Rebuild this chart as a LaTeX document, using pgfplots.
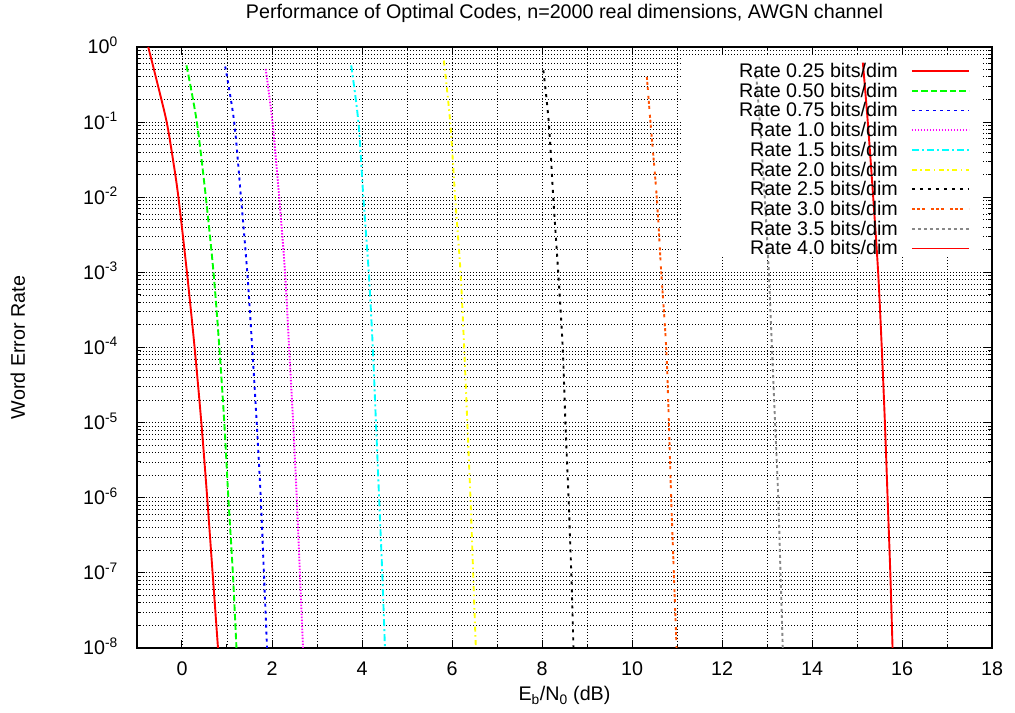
\documentclass[border=0pt]{standalone}
\usepackage{fontspec}
\setmainfont{Liberation Sans}
\usepackage{pgfplots}
\pgfplotsset{compat=1.18}

\definecolor{cGreen}{RGB}{0,255,0}
\definecolor{cBlue}{RGB}{0,0,255}
\definecolor{cMag}{RGB}{255,0,255}
\definecolor{cCyan}{RGB}{0,255,255}
\definecolor{cYel}{RGB}{255,255,0}
\definecolor{cOra}{RGB}{255,80,0}
\definecolor{cGray}{RGB}{136,136,136}

\newcommand\fsz{\fontsize{19.7bp}{23.6bp}\selectfont}

% minor log ticks 2..9 in every decade
\gdef\mlist{1e-9}
\foreach \e in {-8,...,-1}{\foreach \m in {2,...,9}{\xdef\mlist{\mlist,\m e\e}}}

\begin{document}
\begin{tikzpicture}[font=\fsz]
\begin{axis}[
    name=ax,
    scale only axis,
    width=855bp, height=601bp,
    xmin=-1, xmax=18,
    ymin=1e-8, ymax=1,
    ymode=log, log basis y=10,
    xtick={0,2,...,18},
    minor xtick={1,3,...,17},
    ytick={1e-8,1e-7,1e-6,1e-5,1e-4,1e-3,1e-2,1e-1,1},
    minor ytick/.expanded={\mlist},
    grid=both,
    major grid style={black, line width=0.8bp, dash pattern=on 1bp off 2bp},
    minor grid style={black, line width=0.8bp, dash pattern=on 1bp off 2bp},
    tick align=inside,
    major tick length=8bp, minor tick length=4bp,
    every tick/.style={black, line width=1bp},
    axis line style={line width=1.5bp},
    every tick label/.append style={font=\fsz},
    /pgf/number format/assume math mode=true,
    xticklabel style={anchor=base, inner sep=0pt, yshift=-28bp},
    yticklabel={10\textsuperscript{\pgfmathparse{int(round(\tick))}\pgfmathresult}},
    yticklabel style={anchor=base east, inner sep=0pt, xshift=-19bp, yshift=-7bp},
    title={Performance of Optimal Codes, n=2000 real dimensions, AWGN channel},
    title style={at={(axis description cs:0.5,1)}, anchor=base, yshift=23bp, inner sep=0pt},
    xlabel={E\textsubscript{b}/N\textsubscript{0} (dB)},
    xlabel style={at={(axis description cs:0.5,0)}, anchor=base, yshift=-53bp, inner sep=0pt},
    ylabel={Word Error Rate},
    ylabel style={at={(axis description cs:0,0.5)}, anchor=base, yshift=112bp, inner sep=0pt},
    legend plot pos=right,
    legend cell align=right,
    legend image code/.code={\draw[#1] (0bp,0bp) -- (57bp,0bp);},
    legend style={at={(0.9743,0.9734)}, anchor=north east, draw=none, fill=none,
        inner sep=0pt, column sep=13bp, row sep=3.95bp, font=\fsz,
        nodes={inner sep=0pt}},
    every axis plot/.append style={line width=1.9bp, line join=round, smooth, tension=0.5},
]
% opaque key area (grid hidden, curves drawn over it)
\fill[white] (rel axis cs:0.6386,0.6506) rectangle (rel axis cs:0.989,0.985);

\addplot[red, solid] coordinates {
 (-0.75,1) (-0.54,0.316) (-0.34,1e-1) (-0.20,0.0316) (-0.08,1e-2) (0.11,1e-3) (0.28,1e-4)
 (0.43,1e-5) (0.56,1e-6) (0.68,1e-7) (0.80,1e-8)};
\addlegendentry{Rate 0.25 bits/dim}
\addplot[cGreen, dash pattern=on 6.5bp off 3bp] coordinates {
 (0.10,0.57) (0.33,1e-1) (0.53,1e-2) (0.70,1e-3) (0.83,1e-4)
 (0.94,1e-5) (1.03,1e-6) (1.13,1e-7) (1.21,1e-8)};
\addlegendentry{Rate 0.50 bits/dim}
\addplot[cBlue, dash pattern=on 3bp off 4bp] coordinates {
 (0.96,0.55) (1.16,1e-1) (1.31,1e-2) (1.45,1e-3) (1.56,1e-4)
 (1.66,1e-5) (1.75,1e-6) (1.82,1e-7) (1.89,1e-8)};
\addlegendentry{Rate 0.75 bits/dim}
\addplot[cMag, dash pattern=on 1.5bp off 1.5bp] coordinates {
 (1.86,0.51) (2.01,1e-1) (2.16,1e-2) (2.29,1e-3) (2.38,1e-4)
 (2.47,1e-5) (2.55,1e-6) (2.62,1e-7) (2.69,1e-8)};
\addlegendentry{Rate 1.0 bits/dim}
\addplot[cCyan, dash pattern=on 7bp off 3bp on 2bp off 3bp] coordinates {
 (3.76,0.57) (3.92,1e-1) (4.03,1e-2) (4.15,1e-3) (4.24,1e-4)
 (4.31,1e-5) (4.38,1e-6) (4.45,1e-7) (4.51,1e-8)};
\addlegendentry{Rate 1.5 bits/dim}
\addplot[cYel, dash pattern=on 5bp off 3.5bp on 1.5bp off 3.5bp] coordinates {
 (5.82,0.66) (5.96,1e-1) (6.07,1e-2) (6.19,1e-3) (6.27,1e-4)
 (6.34,1e-5) (6.41,1e-6) (6.47,1e-7) (6.53,1e-8)};
\addlegendentry{Rate 2.0 bits/dim}
\addplot[black, dash pattern=on 3bp off 5bp] coordinates {
 (8.03,0.49) (8.15,1e-1) (8.25,1e-2) (8.36,1e-3) (8.46,1e-4)
 (8.52,1e-5) (8.59,1e-6) (8.65,1e-7) (8.70,1e-8)};
\addlegendentry{Rate 2.5 bits/dim}
\addplot[cOra, dash pattern=on 3bp off 2bp on 3bp off 2bp on 3bp off 6bp] coordinates {
 (10.33,0.40) (10.41,1e-1) (10.55,1e-2) (10.65,1e-3) (10.76,1e-4)
 (10.82,1e-5) (10.87,1e-6) (10.93,1e-7) (10.99,1e-8)};
\addlegendentry{Rate 3.0 bits/dim}
\addplot[cGray, dash pattern=on 3bp off 3bp] coordinates {
 (12.75,0.50) (12.84,1e-1) (12.95,1e-2) (13.04,1e-3) (13.11,1e-4)
 (13.18,1e-5) (13.25,1e-6) (13.30,1e-7) (13.35,1e-8)};
\addlegendentry{Rate 3.5 bits/dim}
\addplot[red, solid] coordinates {
 (15.13,0.62) (15.24,1e-1) (15.36,1e-2) (15.47,1e-3) (15.55,1e-4)
 (15.62,1e-5) (15.68,1e-6) (15.74,1e-7) (15.79,1e-8)};
\addlegendentry{Rate 4.0 bits/dim}
\end{axis}
\pgfresetboundingbox
\path[use as bounding box] ([shift={(-137bp,-65bp)}]ax.south west)
    rectangle ([shift={(23bp,47bp)}]ax.north east);
\end{tikzpicture}
\end{document}
